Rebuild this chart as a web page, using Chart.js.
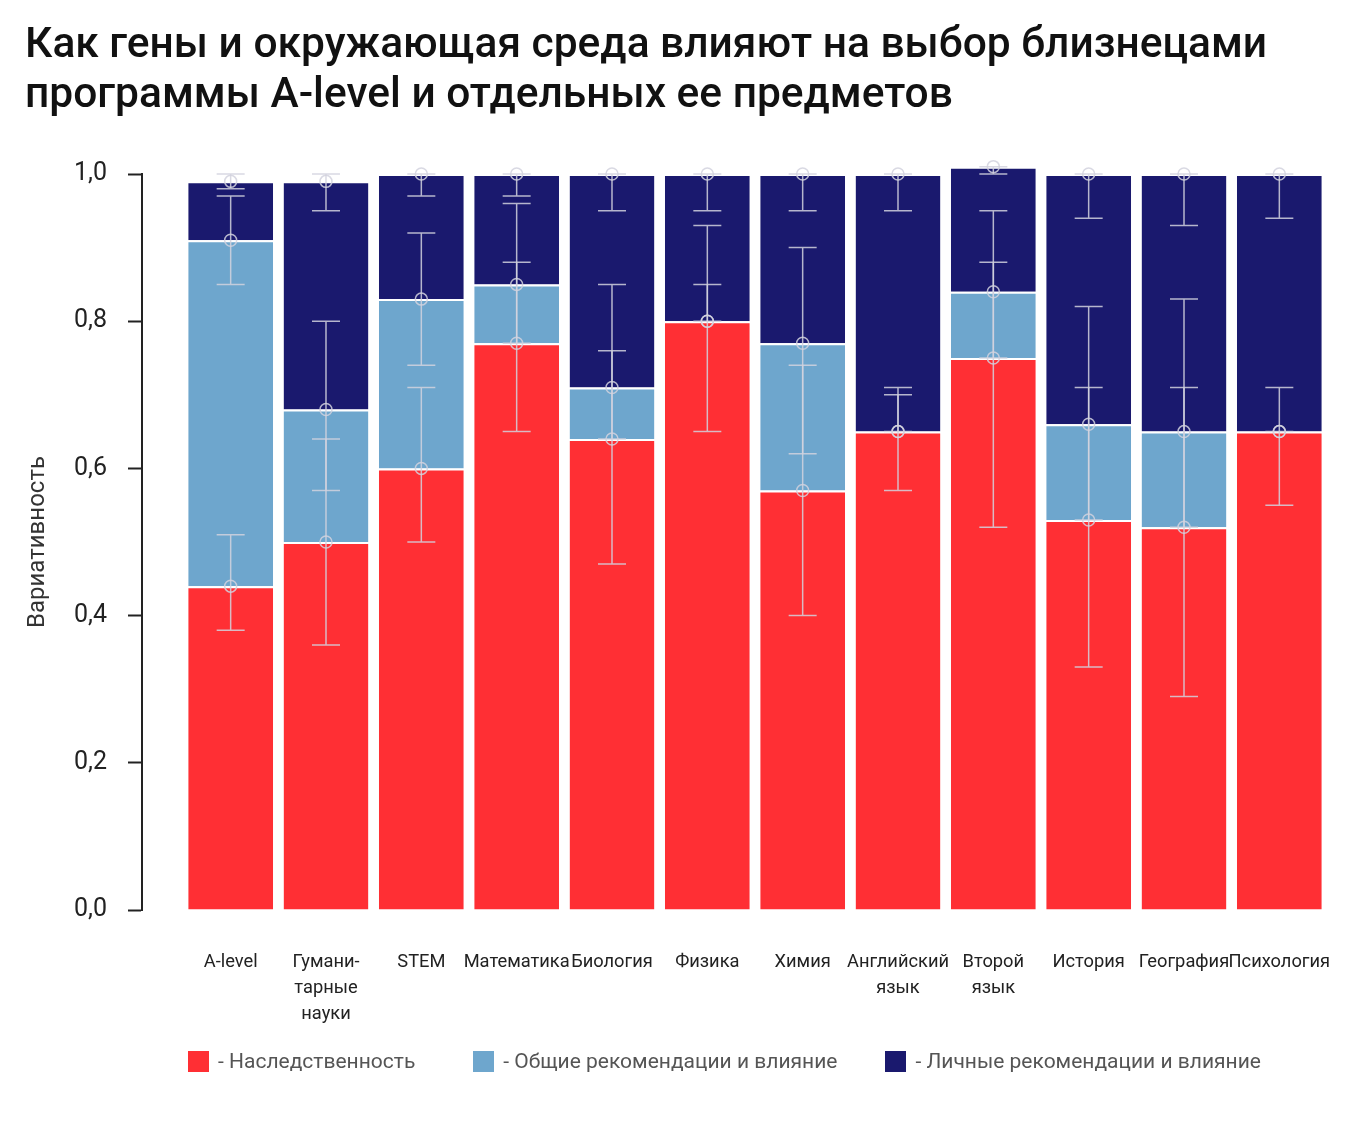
<!DOCTYPE html>
<html lang="ru">
<head>
<meta charset="UTF-8">
<title>Гены и среда: выбор A-level</title>
<style>
  body { margin: 0; background: #fff; font-family: Roboto, sans-serif; }
  #wrap { position: relative; width: 1364px; height: 1121px; }
  #wrap canvas { position: absolute; left: 0; top: 0; }
  #title { position: absolute; left: 25px; top: 18px; margin: 0; font-size: 42.5px; font-weight: 500; line-height: 50px; color: #111; }
  #legend { position: absolute; left: 188px; top: 1050px; display: flex; font-size: 21px; color: #555; }
  .item { display: flex; align-items: center; height: 22px; }
  .box { width: 21px; height: 21px; margin-right: 9px; }
</style>
</head>
<body>
<div id="wrap">
  <canvas id="chart"></canvas>
  <h1 id="title">Как гены и окружающая среда влияют на выбор близнецами<br>программы A-level и отдельных ее предметов</h1>
  <div id="legend"></div>
</div>
<script src="https://cdn.jsdelivr.net/npm/chart.js"></script>
<script>
// values
const categories = [['A-level'], ['Гумани-', 'тарные', 'науки'], ['STEM'], ['Математика'], ['Биология'], ['Физика'],
                    ['Химия'], ['Английский', 'язык'], ['Второй', 'язык'], ['История'], ['География'], ['Психология']];
const seriesNames = ['- Наследственность', '- Общие рекомендации и влияние', '- Личные рекомендации и влияние'];
const seriesColors = ['#ff2f34', '#6ea6cd', '#1a196e'];

const heredity = [0.44, 0.50, 0.60, 0.77, 0.64, 0.80, 0.57, 0.65, 0.75, 0.53, 0.52, 0.65];
const shared   = [0.47, 0.18, 0.23, 0.08, 0.07, 0.00, 0.20, 0.00, 0.09, 0.13, 0.13, 0.00];
const unique   = [0.08, 0.31, 0.17, 0.15, 0.29, 0.20, 0.23, 0.35, 0.17, 0.34, 0.35, 0.35];

// whisker ends, as positions on the axis
const heredityLo = [0.38, 0.36, 0.50, 0.65, 0.47, 0.65, 0.40, 0.57, 0.52, 0.33, 0.29, 0.55];
const heredityHi = [0.51, 0.64, 0.71, 0.88, 0.76, 0.93, 0.74, 0.71, 0.95, 0.71, 0.71, 0.71];
const sharedLo   = [0.85, 0.57, 0.74, 0.77, 0.64, 0.80, 0.62, 0.65, 0.75, 0.53, 0.52, 0.65];
const sharedHi   = [0.97, 0.80, 0.92, 0.96, 0.85, 0.85, 0.90, 0.70, 0.88, 0.82, 0.83, 0.65];
const uniqueLo   = [0.98, 0.95, 0.97, 0.97, 0.95, 0.95, 0.95, 0.95, 1.00, 0.94, 0.93, 0.94];
const uniqueHi   = [1.00, 1.00, 1.00, 1.00, 1.00, 1.00, 1.00, 1.00, 1.01, 1.00, 1.00, 1.00];

const yTickStep = 0.2;

const values = [heredity, shared, unique];
const errLo = [heredityLo, sharedLo, uniqueLo];
const errHi = [heredityHi, sharedHi, uniqueHi];

const whiskerColor = 'rgba(210,210,222,0.85)';

// legend
const legend = document.getElementById('legend');
const legendGaps = [0, 58, 48];
seriesNames.forEach((name, i) => {
    let item = document.createElement('div');
    item.className = 'item';
    item.style.marginLeft = legendGaps[i] + 'px';
    item.innerHTML = '<span class="box" style="background:' + seriesColors[i] + '"></span><span>' + name + '</span>';
    legend.appendChild(item);
});

const errorBars = {
    id: 'errorBars',
    afterDatasetsDraw(chart) {
        const ctx = chart.ctx;
        const y = chart.scales.y;
        const cap = 14;
        ctx.save();
        ctx.strokeStyle = whiskerColor;
        ctx.lineWidth = 1.5;
        chart.data.datasets.forEach((ds, d) => {
            chart.getDatasetMeta(d).data.forEach((bar, i) => {
                const lo = y.getPixelForValue(ds.errLo[i]);
                const hi = y.getPixelForValue(ds.errHi[i]);
                ctx.beginPath();
                ctx.moveTo(bar.x, lo); ctx.lineTo(bar.x, hi);
                ctx.moveTo(bar.x - cap, lo); ctx.lineTo(bar.x + cap, lo);
                ctx.moveTo(bar.x - cap, hi); ctx.lineTo(bar.x + cap, hi);
                ctx.stroke();
                ctx.beginPath();
                ctx.arc(bar.x, bar.y, 6, 0, Math.PI * 2);
                ctx.stroke();
            });
        });
        ctx.restore();
    }
};

const datasets = values.map((vals, d) => ({
    label: seriesNames[d],
    data: vals.map((v, i) => ({x: i, y: v})),
    backgroundColor: seriesColors[d],
    borderColor: 'rgba(255,255,255,0.85)',
    borderWidth: {top: 2, left: 0, right: 0, bottom: 0},
    borderSkipped: 'start',
    errLo: errLo[d],
    errHi: errHi[d],
    clip: false
}));

new Chart(document.getElementById('chart'), {
    type: 'bar',
    data: { datasets: datasets },
    options: {
        responsive: true,
        maintainAspectRatio: false,
        animation: false,
        categoryPercentage: 1,
        barPercentage: 0.89,
        layout: { padding: { top: 174, left: 0, right: 37, bottom: 91 } },
        plugins: { legend: { display: false }, tooltip: { enabled: false } },
        scales: {
            x: {
                type: 'linear',
                stacked: true,
                offset: false,
                min: -0.93,
                max: 11.5,
                grid: { display: false, drawTicks: false, offset: false },
                border: { display: false },
                afterFit: s => { s.height = 120; s.paddingLeft = 0; s.paddingRight = 0; },
                ticks: {
                    stepSize: 1,
                    includeBounds: false,
                    autoSkip: false,
                    maxRotation: 0,
                    minRotation: 0,
                    padding: 40,
                    color: '#222',
                    font: { family: 'Roboto', size: 18.3, lineHeight: 1.4 },
                    callback: v => Number.isInteger(v) && categories[v] ? categories[v] : ''
                }
            },
            y: {
                stacked: true,
                min: 0,
                max: 1,
                afterFit: s => { s.width = 142; },
                grid: { drawOnChartArea: false, drawTicks: true, tickLength: 14, tickWidth: 2, tickColor: '#222' },
                border: { display: true, color: '#222', width: 2 },
                ticks: {
                    stepSize: yTickStep,
                    padding: 21,
                    color: '#222',
                    font: { family: 'Roboto', size: 25 },
                    callback: v => v.toFixed(1).replace('.', ',')
                },
                title: {
                    display: true,
                    text: 'Вариативность',
                    color: '#333',
                    padding: { top: 24, bottom: 0 },
                    font: { family: 'Roboto', size: 24 }
                }
            }
        }
    },
    plugins: [errorBars]
});
</script>
</body>
</html>
